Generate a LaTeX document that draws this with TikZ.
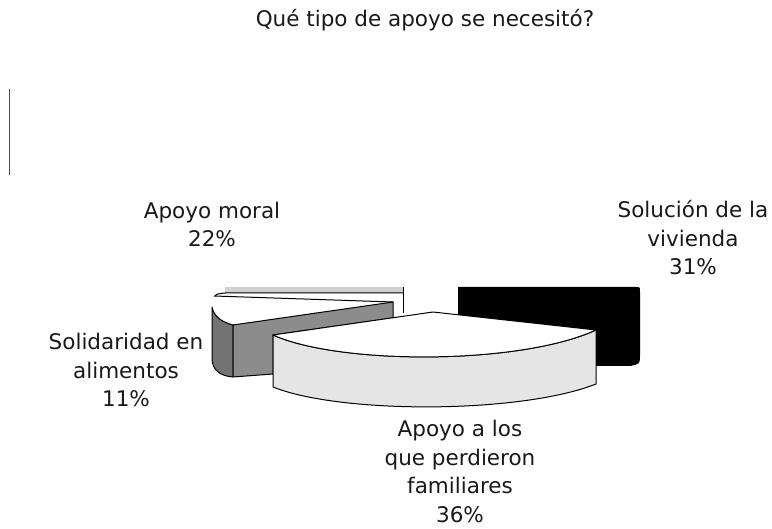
\documentclass[tikz,border=0pt]{standalone}
\usepackage{fontspec}
\setmainfont{DejaVu Sans}
\begin{document}
\begin{tikzpicture}[x=1pt,y=-1pt,
  lbl/.style={align=center, inner sep=0pt, font=\fontsize{21.5pt}{28.5pt}\selectfont, text=black!90},
  edge/.style={draw=black, line width=1pt, line join=round},
  solid1/.style={fill=black!55},
  solid2/.style={fill=black!45}]
\useasboundingbox (0,0) rectangle (772,529);
% title and side mark
\node[lbl, anchor=base] (title) at (425,27) {Qué tipo de apoyo se necesitó?};
\coordinate (marktop) at (9.5,89);
\coordinate (markbot) at (9.5,175);
\draw[black!70, line width=1.3pt] (marktop) -- (markbot);
% Apoyo moral (back slice)
\fill[black!18] (225,287) rectangle (403,293);
\fill[white] (214,296) .. controls (216,294) .. (225,293) -- (403,293) -- (403,313) -- (393,313) -- (393,302) -- cycle;
\draw[edge] (214,297) .. controls (216,294) .. (225,293) -- (403,293);
\draw[edge] (403,287) -- (403,313);
% Solucion de la vivienda (black slice)
\fill[black] (458,287) -- (636,287) .. controls (640,287) .. (640,292) -- (640,355)
  .. controls (640,364) .. (630,366) -- (560,366) -- (458,340) -- cycle;
% Solidaridad en alimentos
\fill[white] (214,296) -- (393,302) -- (233,325) .. controls (214,316) and (211,306) .. (214,296) -- cycle;
\path[solid1, edge] (212,307) .. controls (214,317) and (222,322) .. (233,325) -- (233,377)
  .. controls (220,376) and (212,370) .. (212,358) -- cycle;
\path[solid2, edge] (233,325) -- (393,302) -- (393,318) -- (273,335) -- (273,374) -- (233,377) -- cycle;
\draw[edge] (214,296) -- (393,302);
% Apoyo a los que perdieron familiares (front slice)
\path[fill=black!10, edge] (273,335) .. controls (340,365) and (520,365) .. (596,330) -- (596,384)
  .. controls (520,414) and (340,414) .. (273,387) -- cycle;
\path[fill=white, edge] (273,335) -- (433,312) -- (596,330) .. controls (520,365) and (340,365) .. (273,335) -- cycle;
% labels (base anchor = baseline of the last line)
\node[lbl, anchor=base] (moral) at (212,247) {Apoyo moral\\22\%};
\node[lbl, anchor=base] (vivienda) at (693,275) {Solución de la\\vivienda\\31\%};
\node[lbl, anchor=base] (alimentos) at (126,407) {Solidaridad en\\alimentos\\11\%};
\node[lbl, anchor=base] (familiares) at (460,522) {Apoyo a los\\que perdieron\\familiares\\36\%};
\end{tikzpicture}
\end{document}
